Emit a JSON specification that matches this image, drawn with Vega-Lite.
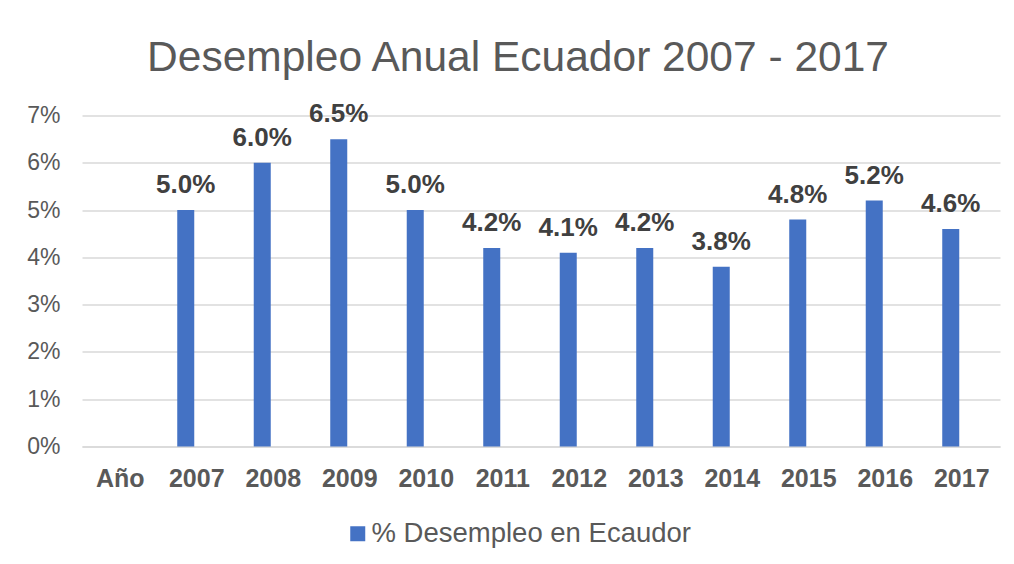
{
  "$schema": "https://vega.github.io/schema/vega-lite/v6.json",
  "width": 918,
  "height": 331,
  "autosize": {"type": "none"},
  "padding": {"left": 82, "top": 115.5, "right": 14, "bottom": 117.5},
  "background": "white",
  "config": {"font": "Liberation Sans", "view": {"stroke": null}},
  "title": {
    "text": "Desempleo Anual Ecuador 2007 - 2017",
    "fontSize": 42.5,
    "fontWeight": "normal",
    "color": "#595959",
    "anchor": "middle",
    "dx": -23,
    "baseline": "alphabetic",
    "offset": -12
  },
  "data": {
    "values": [
      {"anio": "2007", "valor": 0.05, "serie": "% Desempleo en Ecaudor"},
      {"anio": "2008", "valor": 0.06, "serie": "% Desempleo en Ecaudor"},
      {"anio": "2009", "valor": 0.065, "serie": "% Desempleo en Ecaudor"},
      {"anio": "2010", "valor": 0.05, "serie": "% Desempleo en Ecaudor"},
      {"anio": "2011", "valor": 0.042, "serie": "% Desempleo en Ecaudor"},
      {"anio": "2012", "valor": 0.041, "serie": "% Desempleo en Ecaudor"},
      {"anio": "2013", "valor": 0.042, "serie": "% Desempleo en Ecaudor"},
      {"anio": "2014", "valor": 0.038, "serie": "% Desempleo en Ecaudor"},
      {"anio": "2015", "valor": 0.048, "serie": "% Desempleo en Ecaudor"},
      {"anio": "2016", "valor": 0.052, "serie": "% Desempleo en Ecaudor"},
      {"anio": "2017", "valor": 0.046, "serie": "% Desempleo en Ecaudor"}
    ]
  },
  "encoding": {
    "x": {
      "field": "anio",
      "type": "nominal",
      "scale": {
        "domain": ["Año", "2007", "2008", "2009", "2010", "2011", "2012", "2013", "2014", "2015", "2016", "2017"],
        "paddingInner": 0.49,
        "paddingOuter": 0.245
      },
      "axis": {
        "title": null,
        "labelAngle": 0,
        "labelFontSize": 25,
        "labelFontWeight": "bold",
        "labelColor": "#595959",
        "labelPadding": 20,
        "ticks": false,
        "domain": true,
        "domainColor": "#D9D9D9",
        "domainWidth": 1.5
      }
    },
    "xOffset": {
      "field": "serie",
      "type": "nominal",
      "scale": {"domain": ["% Desempleo en Ecaudor", "otro"], "paddingInner": 0.227, "paddingOuter": 0}
    },
    "y": {
      "field": "valor",
      "type": "quantitative",
      "scale": {"domain": [0, 0.07], "nice": false},
      "axis": {
        "title": null,
        "values": [0, 0.01, 0.02, 0.03, 0.04, 0.05, 0.06, 0.07],
        "format": ".0%",
        "labelFontSize": 23,
        "labelColor": "#595959",
        "labelPadding": 22,
        "grid": true,
        "gridColor": "#D9D9D9",
        "gridWidth": 1.5,
        "domain": false,
        "ticks": false
      }
    }
  },
  "layer": [
    {
      "mark": {"type": "bar"},
      "encoding": {
        "color": {
          "field": "serie",
          "type": "nominal",
          "scale": {"domain": ["% Desempleo en Ecaudor"], "range": ["#4472C4"]},
          "legend": {
            "title": null,
            "orient": "none",
            "legendX": 262,
            "legendY": 404.5,
            "symbolType": "square",
            "symbolSize": 225,
            "symbolStrokeWidth": 0,
            "labelFontSize": 27.5,
            "labelColor": "#595959",
            "labelOffset": 0,
            "labelLimit": 500
          }
        }
      }
    },
    {
      "mark": {"type": "text", "fontSize": 26, "fontWeight": "bold", "color": "#404040", "baseline": "alphabetic", "dy": -17},
      "encoding": {
        "text": {"field": "valor", "type": "quantitative", "format": ".1%"}
      }
    }
  ]
}
